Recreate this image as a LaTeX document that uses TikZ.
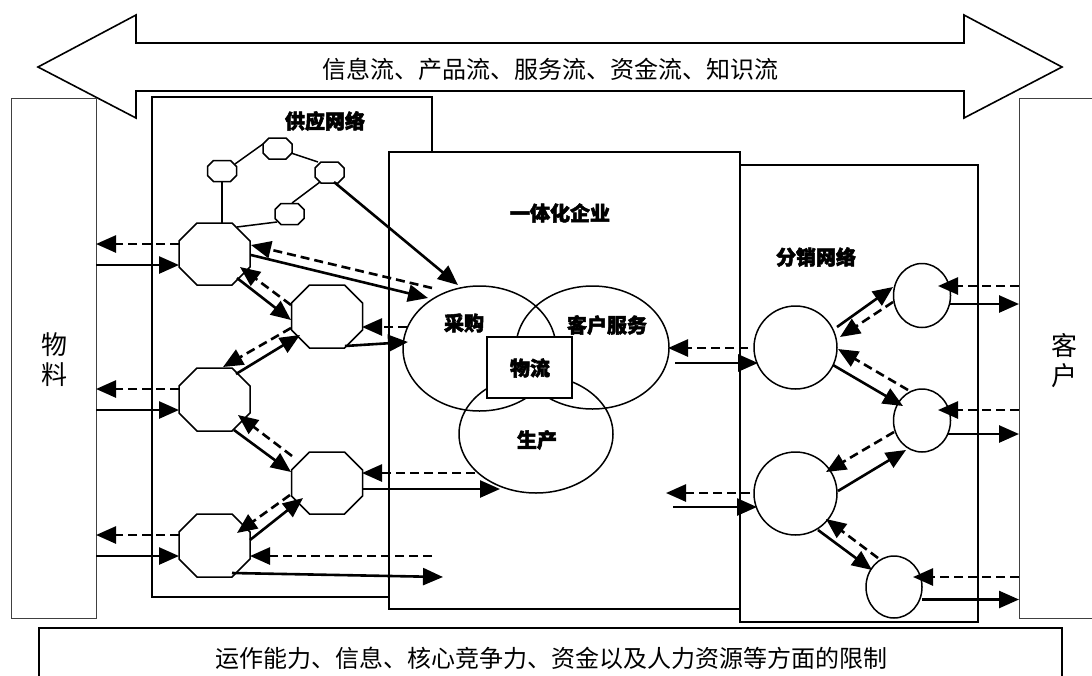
\documentclass[tikz,border=0pt]{standalone}
\usepackage{fontspec}
\setmainfont{Noto Sans CJK SC}[BoldFeatures={FakeBold=2.5}]
\usetikzlibrary{arrows.meta,calc,shapes.geometric}
\tikzset{
 boxline/.style={draw, line width=1.5pt, inner sep=0pt, outer sep=0pt},
 thinbox/.style={draw=black!75, line width=0.9pt, inner sep=0pt, outer sep=0pt},
 octline/.style={line width=1.5pt, fill=white},
 conn/.style={line width=1.5pt},
 tipA/.style={-{Triangle[length=20pt,width=17pt]}},
 solidarr/.style={line width=2.6pt, tipA},
 dasharr/.style={line width=2.6pt, dash pattern=on 9pt off 5pt, tipA},
 lbl/.style={font=\fontsize{20pt}{22pt}\selectfont\bfseries, inner sep=0pt},
 big/.style={font=\fontsize{24pt}{26pt}\selectfont, inner sep=0pt},
 vert/.style={font=\fontsize{26pt}{30pt}\selectfont, align=center, inner sep=0pt},
 circ/.style={ellipse, draw, line width=1.5pt, inner sep=0pt, outer sep=0pt},
}
\newcommand\octa[5]{%
  \node[minimum width=#3, minimum height=#4, inner sep=0pt, outer sep=0pt] (#1) at (#2) {};
  \draw[octline] ([xshift=#5]#1.north west) -- ([xshift=-#5]#1.north east) -- ([yshift=-#5]#1.north east) -- ([yshift=#5]#1.south east) -- ([xshift=-#5]#1.south east) -- ([xshift=#5]#1.south west) -- ([yshift=#5]#1.south west) -- ([yshift=-#5]#1.north west) -- cycle;
}
\begin{document}
\begin{tikzpicture}[x=1pt,y=-1pt]
\useasboundingbox[fill=white] (0,0) rectangle (1092,675);

% top double arrow
\draw[line width=1.6pt, fill=white] (38,67) -- (136,15) -- (136,43) -- (964,43) -- (964,15) -- (1062,67) -- (964,118) -- (964,91) -- (136,91) -- (136,118) -- cycle;
\node[big] (T1) at (550,69) {信息流、产品流、服务流、资金流、知识流};

% side boxes
\node[thinbox, minimum width=85pt, minimum height=520pt] (M) at (53.5,358) {};
\node[vert] (TM) at (54,360) {物\\料};
\node[minimum width=81pt, minimum height=520pt, inner sep=0pt, outer sep=0pt] (K) at (1059.5,358) {};
\draw[draw=black!75, line width=0.9pt] (K.north east) -- (K.north west) -- (K.south west) -- (K.south east);
\node[vert] (TK) at (1064,361) {客\\户};

% network boxes
\node[boxline, minimum width=280pt, minimum height=500pt] (SN) at (292,347) {};
\node[boxline, fill=white, minimum width=351pt, minimum height=457pt] (EN) at (564.5,380.5) {};
\node[boxline, fill=white, minimum width=238pt, minimum height=457pt] (DN) at (859,393.5) {};

% bottom box
\node[minimum width=1023pt, minimum height=72pt, inner sep=0pt, outer sep=0pt] (B) at (550.5,664) {};
\draw[line width=1.5pt] (B.south west) -- (B.north west) -- (B.north east) -- (B.south east);
\node[big] (T2) at (551,658) {运作能力、信息、核心竞争力、资金以及人力资源等方面的限制};

% labels
\node[lbl] (L1) at (325,121) {供应网络};
\node[lbl] (L2) at (560,213) {一体化企业};
\node[lbl] (L3) at (816,257) {分销网络};

% octagons
\octa{O1}{214.5,254}{71pt}{62pt}{18pt}
\octa{O2}{327,316.5}{71pt}{63pt}{18pt}
\octa{O3}{214.5,399.5}{71pt}{63pt}{18pt}
\octa{O4}{327,483}{71pt}{62pt}{18pt}
\octa{O5}{214.5,545.5}{71pt}{63pt}{18pt}
\octa{S1}{222,171}{29pt}{21pt}{6pt}
\octa{S2}{277.5,148.5}{29pt}{21pt}{6pt}
\octa{S3}{329.5,172.5}{29pt}{21pt}{6pt}
\octa{S4}{289.5,214}{29pt}{21pt}{6pt}

% enterprise
\node[circ, minimum width=153pt, minimum height=125pt] (E1) at (479.5,348.5) {};
\node[circ, minimum width=153pt, minimum height=123pt] (E2) at (592.5,347.5) {};
\node[circ, minimum width=154pt, minimum height=118pt] (E3) at (536,434) {};
\node[draw, line width=1.5pt, fill=white, minimum width=85pt, minimum height=61pt, inner sep=0pt] (WL) at (529.5,367.5) {};
\node[lbl] (L4) at (464,323) {采购};
\node[lbl] (L5) at (607,325) {客户服务};
\node[lbl] (L6) at (530,368) {物流};
\node[lbl] (L7) at (537,440) {生产};

% distribution circles
\node[circ, minimum width=57pt, minimum height=64pt] (D0) at (922,295.5) {};
\node[circ, minimum width=83pt, minimum height=83pt] (D1) at (795.5,347.5) {};
\node[circ, minimum width=57pt, minimum height=63pt] (D2) at (922,420.5) {};
\node[circ, minimum width=83pt, minimum height=83pt] (D3) at (795.5,493.5) {};
\node[circ, minimum width=56pt, minimum height=62pt] (D4) at (894,587) {};

% small network lines
\draw[conn] ($(S1)+(13,-7)$) -- ($(S2)+(-14.5,-4.5)$);
\draw[conn] ($(S2)+(13.5,4.5)$) -- ($(S3)+(-11.5,-10.5)$);
\draw[conn] ($(S3)+(-9.5,9.5)$) -- ($(S4)+(2.5,-11)$);
\draw[conn] (S1.south) -- (S1.south |- O1.north);
\draw[conn] ($(S4)+(-12.5,8)$) -- ($(O1)+(22.5,-27)$);

% materials <-> supply
\coordinate (a1) at ($(O1.west)+(0,-10)$);
\coordinate (b1) at ($(O1.west)+(0,11)$);
\coordinate (a3) at ($(O3.west)+(0,-10.5)$);
\coordinate (b3) at ($(O3.west)+(0,10.5)$);
\coordinate (a5) at ($(O5.west)+(0,-10.5)$);
\coordinate (b5) at ($(O5.west)+(0,10.5)$);
\draw[dasharr] (a1) -- (a1 -| M.east);
\draw[solidarr] (b1 -| M.east) -- (b1);
\draw[dasharr] (a3) -- (a3 -| M.east);
\draw[solidarr] (b3 -| M.east) -- (b3);
\draw[dasharr] (a5) -- (a5 -| M.east);
\draw[solidarr] (b5 -| M.east) -- (b5);

% supply internal
\draw[solidarr] ($(O1)+(22.5,24)$) -- ($(O2)+(-36,3.5)$);
\draw[dasharr] ($(O2)+(-36,-11.5)$) -- ($(O1)+(25.5,13)$);
\draw[solidarr] ($(O3)+(21.5,-25.5)$) -- ($(O2)+(-27,18.5)$);
\draw[dasharr] ($(O2)+(-36,11.5)$) -- ($(O3)+(8.5,-32.5)$);
\draw[solidarr] ($(O3)+(19.5,30.5)$) -- ($(O4)+(-36,-11)$);
\draw[dasharr] ($(O4)+(-35,-27)$) -- ($(O3)+(23.5,15.5)$);
\draw[solidarr] ($(O5)+(35.5,-5.5)$) -- ($(O4)+(-24,15)$);
\draw[dasharr] ($(O4)+(-37,12)$) -- ($(O5)+(22.5,-12.5)$);

% supply <-> enterprise
\draw[solidarr] ($(O1)+(36.5,1)$) -- ($(E1)+(-51.5,-50.5)$);
\draw[dasharr] ($(E1)+(-47.5,-60.5)$) -- ($(O1)+(36.5,-9)$);
\draw[solidarr] ($(S3)+(4.5,9.5)$) -- ($(E1)+(-21.5,-63.5)$);
\draw[dasharr] ($(E1)+(-72.5,-21.5)$) -- ($(O2)+(35,10.5)$);
\draw[solidarr] ($(O2)+(18,29.5)$) -- ($(E1)+(-71.5,-6.5)$);
\draw[dasharr] ($(E3)+(-61,39)$) -- ($(O4)+(35,-10)$);
\draw[solidarr] ($(O4)+(35,6)$) -- ($(E3)+(-36,55)$);
\coordinate (f1) at ($(O5)+(217.5,10.5)$);
\draw[dasharr] (f1) -- ($(O5)+(35.5,10.5)$);
\coordinate (f2) at ($(O5)+(228.5,31.5)$);
\draw[solidarr] ($(O5)+(17.5,27.5)$) -- (f2);

% enterprise <-> distribution
\draw[dasharr] ($(D1)+(-47.5,0.5)$) -- ($(E2)+(75.5,0.5)$);
\draw[solidarr] ($(E2)+(82.5,15.5)$) -- ($(D1)+(-37.5,15.5)$);
\coordinate (f3) at ($(D3)+(-129.5,-0.5)$);
\draw[dasharr] ($(D3)+(-45.5,-0.5)$) -- (f3);
\coordinate (f4) at ($(D3)+(-122.5,13.5)$);
\draw[solidarr] (f4) -- ($(D3)+(-38.5,13.5)$);

% distribution internal
\draw[solidarr] ($(D1)+(41.5,-20.5)$) -- ($(D0)+(-29,-8.5)$);
\draw[dasharr] ($(D0)+(-29,6.5)$) -- ($(D1)+(44.5,-10.5)$);
\draw[solidarr] ($(D1)+(37.5,17.5)$) -- ($(D2)+(-19,-14.5)$);
\draw[dasharr] ($(D2)+(-14,-30.5)$) -- ($(D1)+(42.5,1.5)$);
\draw[solidarr] ($(D3)+(42.5,-2.5)$) -- ($(D2)+(-16,29.5)$);
\draw[dasharr] ($(D2)+(-28,11.5)$) -- ($(D3)+(30.5,-21.5)$);
\draw[solidarr] ($(D3)+(22.5,36.5)$) -- ($(D4)+(-22,-17)$);
\draw[dasharr] ($(D4)+(-16,-29)$) -- ($(D3)+(30.5,25.5)$);

% distribution <-> customers
\coordinate (c0) at ($(D0)+(16,-9.5)$);
\coordinate (d0) at ($(D0)+(28,8.5)$);
\coordinate (c2) at ($(D2)+(16,-10.5)$);
\coordinate (d2) at ($(D2)+(26,13.5)$);
\coordinate (c4) at ($(D4)+(19,-10)$);
\coordinate (d4) at ($(D4)+(28,12.5)$);
\draw[dasharr] (c0 -| K.west) -- (c0);
\draw[solidarr] (d0) -- (d0 -| K.west);
\draw[dasharr] (c2 -| K.west) -- (c2);
\draw[solidarr] (d2) -- (d2 -| K.west);
\draw[dasharr] (c4 -| K.west) -- (c4);
\draw[solidarr] (d4) -- (d4 -| K.west);
\end{tikzpicture}
\end{document}
